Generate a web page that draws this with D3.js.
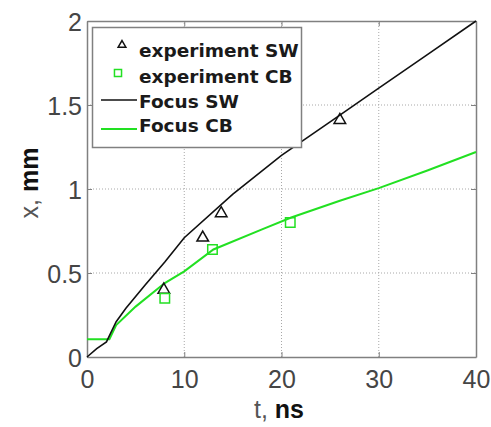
<!DOCTYPE html>
<html>
<head>
<meta charset="utf-8">
<script src="https://cdn.jsdelivr.net/npm/d3@7"></script>
<style>
  html, body { margin: 0; padding: 0; background: #fff; }
  svg { display: block; }
  .tick text { font-family: "Liberation Sans", Arial, sans-serif; font-size: 25px; fill: #454545; }
  .legend text { font-family: "DejaVu Sans", sans-serif; font-weight: bold; font-size: 18.5px; fill: #1a1a1a; }
</style>
</head>
<body>
<svg id="chart"></svg>
<script>
// data
const tTicks = [0, 10, 20, 30, 40];
const xTicks = [0, 0.5, 1, 1.5, 2];
const gridT = [10, 20, 30];
const gridX = [0.5, 1, 1.5];

// Focus SW (black curve)
const swT = [0, 1, 2, 3, 4, 6, 8, 10, 15, 20, 25, 30, 35, 40];
const swX = [0, 0.05, 0.09, 0.21, 0.29, 0.43, 0.565, 0.71, 0.97, 1.20, 1.40, 1.60, 1.80, 2.0];

// Focus CB (green curve)
const cbT = [0, 2.3, 3, 5, 8, 10, 13, 18, 21, 26, 30, 35, 40];
const cbX = [0.105, 0.105, 0.19, 0.30, 0.44, 0.51, 0.64, 0.76, 0.83, 0.93, 1.005, 1.11, 1.22];

// experiment points
const expSwT = [7.9, 11.9, 13.8, 26];
const expSwX = [0.40, 0.71, 0.855, 1.41];
const expCbT = [8, 12.9, 20.9];
const expCbX = [0.35, 0.64, 0.80];

const legendLabels = ["experiment SW", "experiment CB", "Focus SW", "Focus CB"];

const W = 491;
const H = 427;
const GREEN = "#22e022";
const AXIS = "#808080";

const svg = d3.select("#chart").attr("width", W).attr("height", H);

const x = d3.scaleLinear().domain([0, 40]).range([87, 476]);
const y = d3.scaleLinear().domain([0, 2]).range([357, 21]);

// grid (dotted)
svg.append("g").selectAll("line")
  .data(gridT).enter().append("line")
  .attr("x1", d => x(d)).attr("x2", d => x(d))
  .attr("y1", y(0)).attr("y2", y(2))
  .attr("stroke", "#a8a8a8").attr("stroke-dasharray", "1,2");
svg.append("g").selectAll("line")
  .data(gridX).enter().append("line")
  .attr("x1", x(0)).attr("x2", x(40))
  .attr("y1", d => y(d)).attr("y2", d => y(d))
  .attr("stroke", "#a8a8a8").attr("stroke-dasharray", "1,2");

// axes, ticks pointing inward like matlab
const fmt = d => String(d);
const gx = svg.append("g").attr("transform", `translate(0,${y(0)})`)
  .call(d3.axisBottom(x).tickValues(tTicks).tickFormat(fmt).tickSize(-5).tickSizeOuter(0).tickPadding(13));
const gy = svg.append("g").attr("transform", `translate(${x(0)},0)`)
  .call(d3.axisLeft(y).tickValues(xTicks).tickFormat(fmt).tickSize(-5).tickSizeOuter(0).tickPadding(5));
gy.selectAll(".tick text").attr("dy", "0.38em");
const gxTop = svg.append("g").attr("transform", `translate(0,${y(2)})`)
  .call(d3.axisTop(x).tickValues(tTicks).tickFormat("").tickSize(-5).tickSizeOuter(0));
const gyRight = svg.append("g").attr("transform", `translate(${x(40)},0)`)
  .call(d3.axisRight(y).tickValues(xTicks).tickFormat("").tickSize(-5).tickSizeOuter(0));

[gx, gy, gxTop, gyRight].forEach(g => {
  g.select(".domain").attr("stroke", AXIS).attr("stroke-width", 1.5);
  g.selectAll(".tick line").attr("stroke", AXIS);
});

// curves
const line = d3.line().x(d => x(d[0])).y(d => y(d[1]));
svg.append("path")
  .attr("d", line(d3.zip(cbT, cbX)))
  .attr("fill", "none").attr("stroke", GREEN).attr("stroke-width", 2);
svg.append("path")
  .attr("d", line(d3.zip(swT, swX)))
  .attr("fill", "none").attr("stroke", "#111").attr("stroke-width", 1.6);

// markers
const tri = d3.symbol(d3.symbolTriangle, 58);
const sq = d3.symbol(d3.symbolSquare, 90);
svg.append("g").selectAll("path")
  .data(d3.zip(expSwT, expSwX)).enter().append("path")
  .attr("d", tri)
  .attr("transform", d => `translate(${x(d[0])},${y(d[1])})`)
  .attr("fill", "none").attr("stroke", "#111").attr("stroke-width", 1.5);
svg.append("g").selectAll("path")
  .data(d3.zip(expCbT, expCbX)).enter().append("path")
  .attr("d", sq)
  .attr("transform", d => `translate(${x(d[0])},${y(d[1])})`)
  .attr("fill", "none").attr("stroke", GREEN).attr("stroke-width", 1.5);

// axis labels (unit part is darker/bold in the picture)
const xl = svg.append("text")
  .attr("x", 279).attr("y", 418)
  .attr("text-anchor", "middle")
  .style("font-family", "Liberation Sans, Arial, sans-serif")
  .style("font-size", "25px");
xl.append("tspan").attr("fill", "#555").text("t, ");
xl.append("tspan").attr("fill", "#111").attr("font-weight", "bold").text("ns");

const yl = svg.append("text")
  .attr("transform", "translate(38,183) rotate(-90)")
  .attr("text-anchor", "middle")
  .style("font-family", "Liberation Sans, Arial, sans-serif")
  .style("font-size", "25px");
yl.append("tspan").attr("fill", "#555").text("x, ");
yl.append("tspan").attr("fill", "#111").attr("font-weight", "bold").text("mm");

// legend
const leg = svg.append("g").attr("class", "legend");
leg.append("rect")
  .attr("x", 92.5).attr("y", 27.5).attr("width", 209).attr("height", 120)
  .attr("fill", "#fff").attr("stroke", AXIS).attr("stroke-width", 1.5);

const rowY = [56.5, 82.5, 107.5, 131.5];
leg.selectAll("text")
  .data(legendLabels).enter().append("text")
  .attr("x", 139).attr("y", (d, i) => rowY[i])
  .text(d => d);

leg.append("path").attr("d", d3.symbol(d3.symbolTriangle, 26))
  .attr("transform", "translate(122,45)")
  .attr("fill", "none").attr("stroke", "#111").attr("stroke-width", 1.5);
leg.append("path").attr("d", d3.symbol(d3.symbolSquare, 50))
  .attr("transform", "translate(118,73)")
  .attr("fill", "none").attr("stroke", GREEN).attr("stroke-width", 1.5);
leg.append("line").attr("x1", 101).attr("x2", 137).attr("y1", 100).attr("y2", 100)
  .attr("stroke", "#111").attr("stroke-width", 1.6);
leg.append("line").attr("x1", 101).attr("x2", 137).attr("y1", 129).attr("y2", 129)
  .attr("stroke", GREEN).attr("stroke-width", 2);
</script>
</body>
</html>
